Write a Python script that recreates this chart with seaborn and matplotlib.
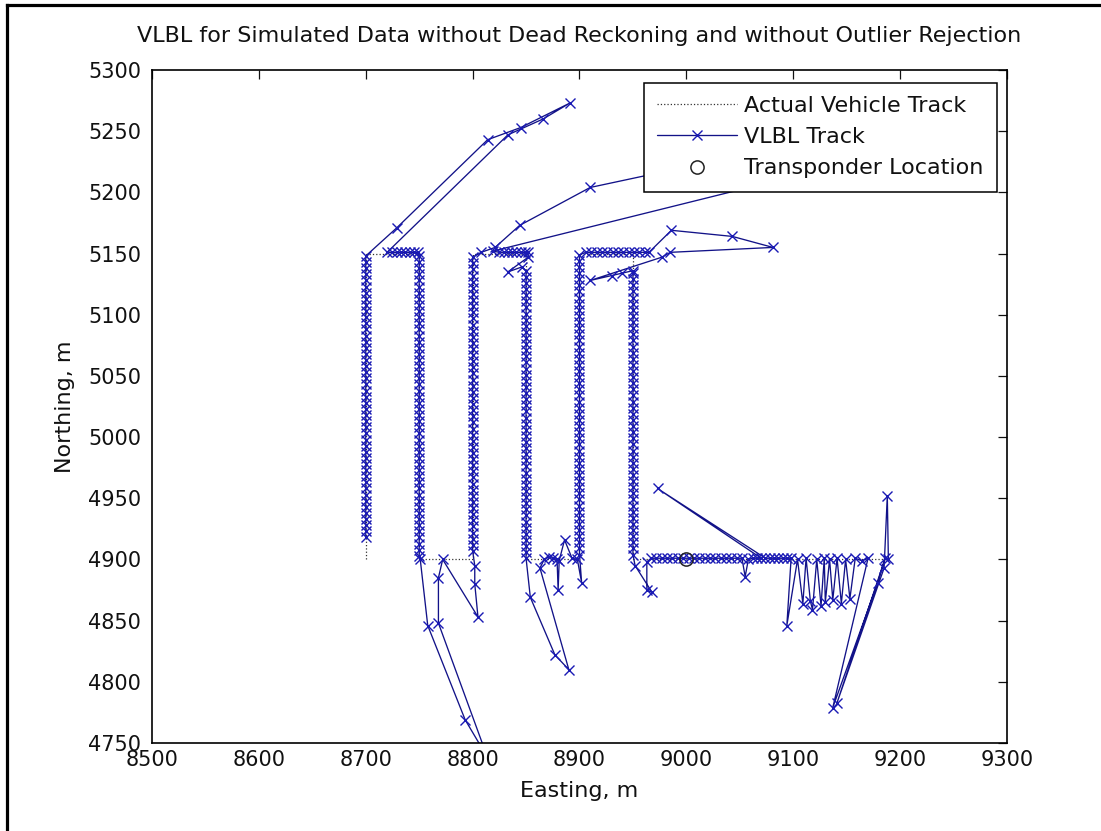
import matplotlib
matplotlib.use("Agg")
import matplotlib.pyplot as plt
from matplotlib.lines import Line2D
import pandas as pd
import seaborn as sns

# ---------------- text ----------------
title_text = "VLBL for Simulated Data without Dead Reckoning and without Outlier Rejection"
x_label = "Easting, m"
y_label = "Northing, m"
legend_labels = ["Actual Vehicle Track", "VLBL Track", "Transponder Location"]
x_ticks = [8500, 8600, 8700, 8800, 8900, 9000, 9100, 9200, 9300]
y_ticks = [4750, 4800, 4850, 4900, 4950, 5000, 5050, 5100, 5150, 5200, 5250, 5300]

# ---------------- actual vehicle track (lawnmower corners) ----------------
actual_e = [8700, 8700, 8750, 8750, 8800, 8800, 8850, 8850, 8900, 8900, 8950, 8950, 9190]
actual_n = [4900, 5150, 5150, 4900, 4900, 5150, 5150, 4900, 4900, 5150, 5150, 4900, 4900]

# ---------------- transponder ----------------
transponder_e = [9000]
transponder_n = [4900]

# ---------------- VLBL track pieces (in time order) ----------------
leg1_e = 8700
leg1_n = [4918, 4923, 4928, 4933, 4938, 4943, 4948, 4953, 4958, 4963,
          4968, 4973, 4978, 4983, 4988, 4993, 4998, 5003, 5008, 5013,
          5018, 5023, 5028, 5033, 5038, 5043, 5048, 5053, 5058, 5063,
          5068, 5073, 5078, 5083, 5088, 5093, 5098, 5103, 5108, 5113,
          5118, 5123, 5128, 5133, 5138, 5143, 5148]

top1_e = [8729, 8814, 8845, 8891, 8866, 8833, 8720]
top1_n = [5171, 5243, 5253, 5273, 5260, 5247, 5151]

row1_n = 5151
row1_e = [8725, 8729, 8733, 8737, 8741, 8745, 8749]

leg2_e = 8750
leg2_n = [5148, 5143, 5138, 5133, 5128, 5123, 5118, 5113, 5108, 5103,
          5098, 5093, 5088, 5083, 5078, 5073, 5068, 5063, 5058, 5053,
          5048, 5043, 5038, 5033, 5028, 5023, 5018, 5013, 5008, 5003,
          4998, 4993, 4988, 4983, 4978, 4973, 4968, 4963, 4958, 4953,
          4948, 4943, 4938, 4933, 4928, 4923, 4918, 4913, 4908, 4903]

bottom2_e = [8751, 8758, 8793, 8814, 8768, 8768, 8772, 8805, 8802, 8802]
bottom2_n = [4900, 4846, 4769, 4738, 4848, 4885, 4900, 4853, 4880, 4895]

leg3_e = 8800
leg3_n = [4907, 4912, 4917, 4922, 4927, 4932, 4937, 4942, 4947, 4952,
          4957, 4962, 4967, 4972, 4977, 4982, 4987, 4992, 4997, 5002,
          5007, 5012, 5017, 5022, 5027, 5032, 5037, 5042, 5047, 5052,
          5057, 5062, 5067, 5072, 5077, 5082, 5087, 5092, 5097, 5102,
          5107, 5112, 5117, 5122, 5127, 5132, 5137, 5142, 5147]

top3_e = [8808, 8821, 8844, 8910, 9060, 9100, 8819]
top3_n = [5151, 5155, 5173, 5204, 5232, 5213, 5152]

row3_n = 5151
row3_e = [8825, 8829, 8833, 8837, 8841, 8845, 8849, 8852]

tail3_e = [8852, 8833, 8846]
tail3_n = [5147, 5135, 5139]

leg4_e = 8850
leg4_n = [5136, 5131, 5126, 5121, 5116, 5111, 5106, 5101, 5096, 5091,
          5086, 5081, 5076, 5071, 5066, 5061, 5056, 5051, 5046, 5041,
          5036, 5031, 5026, 5021, 5016, 5011, 5006, 5001, 4996, 4991,
          4986, 4981, 4976, 4971, 4966, 4961, 4956, 4951, 4946, 4941,
          4936, 4931, 4926, 4921, 4916, 4911, 4906, 4901]

bottom4_e = [8854, 8877, 8890, 8863, 8867, 8871, 8875, 8879, 8880, 8881, 8886, 8893, 8898, 8902]
bottom4_n = [4869, 4822, 4810, 4893, 4900, 4902, 4901, 4900, 4875, 4899, 4916, 4901, 4900, 4881]

leg5_e = 8900
leg5_n = [4904, 4909, 4914, 4919, 4924, 4929, 4934, 4939, 4944, 4949,
          4954, 4959, 4964, 4969, 4974, 4979, 4984, 4989, 4994, 4999,
          5004, 5009, 5014, 5019, 5024, 5029, 5034, 5039, 5044, 5049,
          5054, 5059, 5064, 5069, 5074, 5079, 5084, 5089, 5094, 5099,
          5104, 5109, 5114, 5119, 5124, 5129, 5134, 5139, 5144, 5149]

row5_n = 5151
row5_e = [8906, 8911, 8916, 8921, 8926, 8931, 8936, 8941, 8946, 8951, 8956, 8961, 8965]

top5_e = [8986, 9043, 9081, 8985, 8977, 8910, 8930, 8940, 8950]
top5_n = [5169, 5164, 5155, 5151, 5147, 5128, 5132, 5134, 5136]

leg6_e = 8950
leg6_n = [5134, 5129, 5124, 5119, 5114, 5109, 5104, 5099, 5094, 5089,
          5084, 5079, 5074, 5069, 5064, 5059, 5054, 5049, 5044, 5039,
          5034, 5029, 5024, 5019, 5014, 5009, 5004, 4999, 4994, 4989,
          4984, 4979, 4974, 4969, 4964, 4959, 4954, 4949, 4944, 4939,
          4934, 4929, 4924, 4919, 4914, 4909, 4904]

bottom6_e = [8952, 8968, 8963, 8963]
bottom6_n = [4895, 4873, 4875, 4898]

rowA_n = 4901
rowA_e = [8967, 8972, 8977, 8982, 8987, 8992, 8997, 9002, 9007, 9012,
          9017, 9022, 9027, 9032, 9037, 9042, 9047, 9052]

spikeA_e = [9055, 9058]
spikeA_n = [4886, 4900]

rowB_n = 4901
rowB_e = [9062, 9066, 9070]

spikeB_e = [8973, 9074]
spikeB_n = [4958, 4901]

rowC_n = 4901
rowC_e = [9078, 9082, 9086, 9090, 9094, 9098]

zigzag_e = [9094, 9104, 9109, 9112, 9116, 9118, 9122, 9126, 9129, 9130, 9134, 9137,
            9141, 9145, 9149, 9153, 9158, 9164, 9170, 9137, 9179, 9186, 9141, 9185,
            9188, 9189]
zigzag_n = [4846, 4900, 4864, 4901, 4866, 4859, 4900, 4862, 4901, 4865, 4900, 4867,
            4901, 4864, 4900, 4868, 4901, 4899, 4901, 4779, 4881, 4901, 4783, 4893,
            4952, 4900]


def column(e, ns):
    return [e] * len(ns), list(ns)


def row(n, es):
    return list(es), [n] * len(es)


pieces = [
    column(leg1_e, leg1_n), (top1_e, top1_n), row(row1_n, row1_e),
    column(leg2_e, leg2_n), (bottom2_e, bottom2_n),
    column(leg3_e, leg3_n), (top3_e, top3_n), row(row3_n, row3_e), (tail3_e, tail3_n),
    column(leg4_e, leg4_n), (bottom4_e, bottom4_n),
    column(leg5_e, leg5_n), row(row5_n, row5_e), (top5_e, top5_n),
    column(leg6_e, leg6_n), (bottom6_e, bottom6_n),
    row(rowA_n, rowA_e), (spikeA_e, spikeA_n), row(rowB_n, rowB_e),
    (spikeB_e, spikeB_n), row(rowC_n, rowC_e), (zigzag_e, zigzag_n),
]
vlbl_e, vlbl_n = [], []
for pe, pn in pieces:
    vlbl_e += list(pe)
    vlbl_n += list(pn)

vlbl_df = pd.DataFrame({"e": vlbl_e, "n": vlbl_n})
actual_df = pd.DataFrame({"e": actual_e, "n": actual_n})
tp_df = pd.DataFrame({"e": transponder_e, "n": transponder_n})

# ---------------- style ----------------
sns.set_style("white")
plt.rcParams["font.family"] = ["DejaVu Sans"]
plt.rcParams["text.color"] = "#111111"
plt.rcParams["axes.labelcolor"] = "#111111"

W, H = 1101, 831
fig = plt.figure(figsize=(W / 100, H / 100), dpi=100)
fig.patch.set_facecolor("white")
ax = fig.add_axes([152 / W, (H - 743) / H, 855 / W, 673 / H])

line_color = "#121288"
marker_color = "#1a1ab4"

sns.lineplot(data=actual_df, x="e", y="n", sort=False, estimator=None, ax=ax,
             color="#333333", linestyle=":", linewidth=0.9, legend=False)
sns.lineplot(data=vlbl_df, x="e", y="n", sort=False, estimator=None, ax=ax,
             color=line_color, linewidth=0.95, marker="x", markersize=7,
             markeredgecolor=marker_color, markeredgewidth=1.0, legend=False)
sns.lineplot(data=tp_df, x="e", y="n", sort=False, estimator=None, ax=ax,
             color="black", linestyle="none", marker="o", markersize=9.5,
             markerfacecolor="none", markeredgecolor="#222222", markeredgewidth=1.1,
             legend=False)

lines = ax.get_lines()
handles = [lines[0], lines[1], lines[2]]

ax.set_xlim(8500, 9300)
ax.set_ylim(4750, 5300)
ax.set_xticks(x_ticks)
ax.set_yticks(y_ticks)
ax.set_xticklabels([str(t) for t in x_ticks])
ax.set_yticklabels([str(t) for t in y_ticks])

ax.tick_params(axis="both", which="major", direction="in", length=6.5, width=0.9,
               top=True, right=True, labelsize=15, colors="#111111")
ax.tick_params(axis="x", pad=5)
ax.tick_params(axis="y", pad=8)

for sp in ax.spines.values():
    sp.set_visible(True)
    sp.set_color("black")
    sp.set_linewidth(1.2)

ax.set_xlabel(x_label, fontsize=16, labelpad=8)
ax.set_ylabel(y_label, fontsize=16, labelpad=9)
ax.set_title(title_text, fontsize=16, pad=20)

leg = ax.legend(handles, legend_labels, loc="upper right",
                bbox_to_anchor=(0.988, 0.981), borderaxespad=0, fontsize=16,
                handlelength=3.6, handletextpad=0.32, labelspacing=0.5,
                borderpad=0.6, frameon=True, fancybox=False, framealpha=1,
                edgecolor="black")
leg.get_frame().set_linewidth(1.1)

# outer border of the figure (left and top edges, as in the screenshot)
fig.add_artist(Line2D([7 / W, 7 / W], [0, 1 - 5 / H], color="black", lw=2.3,
                      transform=fig.transFigure, solid_capstyle="projecting"))
fig.add_artist(Line2D([7 / W, 1], [1 - 5 / H, 1 - 5 / H], color="black", lw=2.3,
                      transform=fig.transFigure, solid_capstyle="projecting"))

fig.savefig("out.png", dpi=100, facecolor="white")
